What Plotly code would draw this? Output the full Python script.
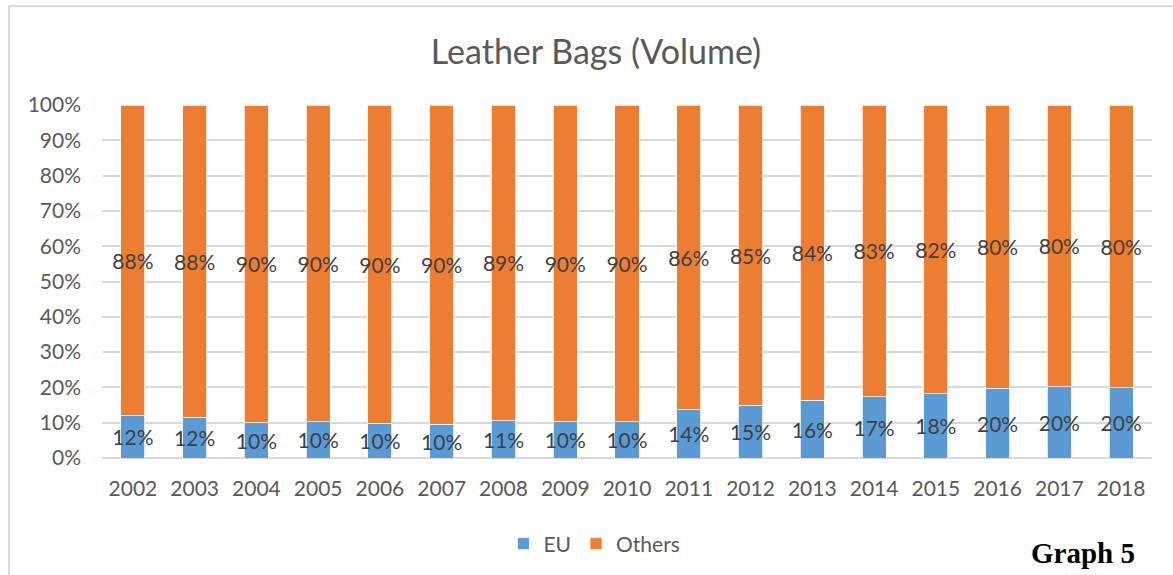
import plotly.graph_objects as go

years = [str(y) for y in range(2002, 2019)]
eu = [0.120, 0.116, 0.100, 0.102, 0.098, 0.096, 0.106, 0.102, 0.103, 0.137, 0.149, 0.164, 0.173, 0.182, 0.198, 0.202, 0.199]
others = [round(1 - v, 3) for v in eu]
y_ticks = [i / 10 for i in range(11)]

BLUE = "#5b9bd5"
ORANGE = "#ed7d31"
FONT = "Lato"

fig = go.Figure()
for name, vals, col in [("EU", eu, BLUE), ("Others", others, ORANGE)]:
    fig.add_trace(go.Bar(
        x=years, y=vals, name=name,
        marker=dict(color=col, line=dict(color="white", width=0.75)),
        texttemplate="%{y:.0%}", textposition="inside", insidetextanchor="middle",
        textangle=0, constraintext="none",
        textfont=dict(family=FONT, size=21, color="#404040"),
        cliponaxis=False,
    ))

fig.update_layout(
    barmode="stack", bargap=0.61,
    width=1173, height=575,
    margin=dict(l=102, r=21, t=105, b=116),
    paper_bgcolor="white", plot_bgcolor="white",
    title=dict(text="Leather Bags (Volume)", x=596 / 1173, xanchor="center", y=1 - 52 / 575, yanchor="middle",
               font=dict(family=FONT, size=34, color="#595959")),
    font=dict(family=FONT, color="#595959"),
    xaxis=dict(showgrid=False, showline=False, ticks="", tickfont=dict(size=21, color="#595959"),
               ticklabelstandoff=16),
    yaxis=dict(range=[0, 1], tickvals=y_ticks, tickformat=".0%", showgrid=True,
               gridcolor="#d9d9d9", gridwidth=1.5, zeroline=True, zerolinecolor="#d9d9d9",
               zerolinewidth=1.5, tickfont=dict(size=21, color="#595959"), ticklabelstandoff=20),
    legend=dict(orientation="h", x=0.469, xanchor="center", y=-0.24, yanchor="middle",
                font=dict(size=21, color="#595959"), traceorder="normal", itemwidth=30),
    showlegend=True,
)

fig.add_shape(type="rect", xref="paper", yref="paper",
              x0=(9 - 102) / 1050, x1=1.2, y0=-0.6, y1=(459 - 6) / 354,
              line=dict(color="#d9d9d9", width=2), fillcolor="rgba(0,0,0,0)", layer="below")

fig.add_annotation(text="<b>Graph 5</b>", xref="paper", yref="paper",
                   x=(1083 - 102) / 1050, y=(459 - 554) / 354, xanchor="center", yanchor="middle",
                   showarrow=False, font=dict(family="Liberation Serif", size=29, color="black"))

fig.write_html("out.html", config={"displayModeBar": False})

with open("out.html", "r", encoding="utf-8") as f:
    html = f.read()
html = html.replace("<body>", '<body style="margin:0;padding:0;overflow:hidden">', 1)
with open("out.html", "w", encoding="utf-8") as f:
    f.write(html)
